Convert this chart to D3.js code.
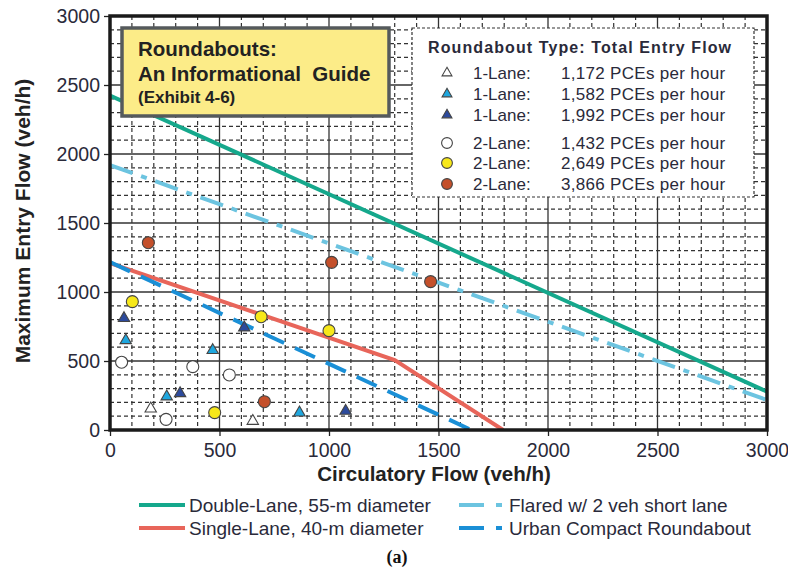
<!DOCTYPE html>
<html><head><meta charset="utf-8">
<script src="https://cdn.jsdelivr.net/npm/d3@7"></script>
<style>body{margin:0;background:#fff}svg{display:block;font-family:"Liberation Sans",Arial,sans-serif}</style>
</head><body><svg id="c" width="788" height="572"></svg>
<script>
const xTicks = [0,500,1000,1500,2000,2500,3000];
const yTicks = [0,500,1000,1500,2000,2500,3000];
const minorStep = 100;

const doubleLane = [[0,2424],[3000,278]];
const flared = [[0,1920],[3000,217]];
const singleLane = [[0,1210],[1300,507],[1795,0]];
const urbanCompact = [[0,1217],[1650,0]];

const tri1172 = [[186,162],[652,72]];
const tri1582 = [[72,657],[469,585],[259,249],[865,133]];
const tri1992 = [[64,817],[613,749],[320,273],[1076,145]];
const cir1432 = [[53,491],[378,459],[545,399],[256,77]];
const cir2649 = [[102,930],[690,821],[1000,720],[478,126]];
const cir3866 = [[175,1357],[1012,1215],[1464,1075],[705,205]];

const legendTitle = "Roundabout Type: Total Entry Flow";
const legendLanes = ["1-Lane:","1-Lane:","1-Lane:","2-Lane:","2-Lane:","2-Lane:"];
const legendFlows = ["1,172 PCEs per hour","1,582 PCEs per hour","1,992 PCEs per hour","1,432 PCEs per hour","2,649 PCEs per hour","3,866 PCEs per hour"];
const lineNames = ["Double-Lane, 55-m diameter","Single-Lane, 40-m diameter","Flared w/ 2 veh short lane","Urban Compact Roundabout"];

const svg = d3.select("#c");
const L=110,R=767,T=16,B=430;
const x = d3.scaleLinear().domain([0,3000]).range([L,R]);
const y = d3.scaleLinear().domain([0,3000]).range([B,T]);
const txt = "#2a2a3a";

const g = svg.append("g");
const minors = d3.range(0,3001,minorStep).filter(v=>v%500!==0);
g.selectAll(".vx").data(minors).join("line").attr("class","vx")
  .attr("x1",d=>x(d)).attr("x2",d=>x(d)).attr("y1",T).attr("y2",B)
  .attr("stroke","#333").attr("stroke-width",1.2).attr("stroke-dasharray","4,3");
g.selectAll(".hy").data(minors).join("line").attr("class","hy")
  .attr("y1",d=>y(d)).attr("y2",d=>y(d)).attr("x1",L).attr("x2",R)
  .attr("stroke","#333").attr("stroke-width",1.2).attr("stroke-dasharray","4,3");
g.selectAll(".mx").data(xTicks).join("line").attr("class","mx")
  .attr("x1",d=>x(d)).attr("x2",d=>x(d)).attr("y1",T).attr("y2",B)
  .attr("stroke","#333").attr("stroke-width",1.3);
g.selectAll(".my").data(yTicks).join("line").attr("class","my")
  .attr("y1",d=>y(d)).attr("y2",d=>y(d)).attr("x1",L).attr("x2",R)
  .attr("stroke","#333").attr("stroke-width",1.3);

// axes
const xa = svg.append("g").attr("transform",`translate(0,${B})`)
  .call(d3.axisBottom(x).tickValues(xTicks).tickSize(6).tickPadding(7).tickFormat(d3.format("d")));
const ya = svg.append("g").attr("transform",`translate(${L},0)`)
  .call(d3.axisLeft(y).tickValues(yTicks).tickSize(6).tickPadding(4).tickFormat(d3.format("d")));
[xa,ya].forEach(a=>{a.select(".domain").remove();
  a.selectAll("line").attr("stroke","#222").attr("stroke-width",1.3);
  a.selectAll("text").attr("font-size",19.5).attr("fill",txt).attr("font-family","Liberation Sans, Arial");});

// lines
const line = d3.line().x(d=>x(d[0])).y(d=>y(d[1]));
svg.append("clipPath").attr("id","pc").append("rect").attr("x",L).attr("y",T).attr("width",R-L).attr("height",B-T);
const lg = svg.append("g").attr("clip-path","url(#pc)");
lg.append("path").datum(singleLane).attr("d",line).attr("fill","none").attr("stroke","#e8655a").attr("stroke-width",4);
lg.append("path").datum(urbanCompact).attr("d",line).attr("fill","none").attr("stroke","#1a8fd6").attr("stroke-width",4).attr("stroke-dasharray","22,12");
lg.append("path").datum(flared).attr("d",line).attr("fill","none").attr("stroke","#6cc4e0").attr("stroke-width",4).attr("stroke-dasharray","24,9,6,9");
lg.append("path").datum(doubleLane).attr("d",line).attr("fill","none").attr("stroke","#15a88c").attr("stroke-width",4);

// frame
svg.append("rect").attr("x",L).attr("y",T).attr("width",R-L).attr("height",B-T)
  .attr("fill","none").attr("stroke","#1a1a1a").attr("stroke-width",3.5);

// points
const triSym = d3.symbol().type(d3.symbolTriangle).size(56);
const groups = [
  {d:tri1172,shape:"t",fill:"#ffffff"},
  {d:tri1582,shape:"t",fill:"#1ea7df"},
  {d:tri1992,shape:"t",fill:"#2c4a9c"},
  {d:cir1432,shape:"c",fill:"#ffffff"},
  {d:cir2649,shape:"c",fill:"#f7e81a"},
  {d:cir3866,shape:"c",fill:"#c4502b"}
];
const pg = svg.append("g");
groups.forEach(gr=>{
  if(gr.shape==="t"){
    pg.selectAll(null).data(gr.d).join("path").attr("d",triSym)
      .attr("transform",d=>`translate(${x(d[0])},${y(d[1])+1})`)
      .attr("fill",gr.fill).attr("stroke","#444").attr("stroke-width",1.1);
  } else {
    pg.selectAll(null).data(gr.d).join("circle").attr("cx",d=>x(d[0])).attr("cy",d=>y(d[1])).attr("r",6)
      .attr("fill",gr.fill).attr("stroke","#444").attr("stroke-width",1.1);
  }
});

// title box
svg.append("rect").attr("x",122).attr("y",28).attr("width",267).attr("height",88)
  .attr("fill","#fcec88").attr("stroke","#555a5c").attr("stroke-width",3.5);
const tt = svg.append("g").attr("fill","#222").attr("font-weight","bold");
tt.append("text").attr("x",138).attr("y",56).attr("font-size",20.5).text("Roundabouts:");
tt.append("text").attr("x",138).attr("y",81).attr("font-size",20.5).attr("xml:space","preserve").text("An Informational  Guide");
tt.append("text").attr("x",138).attr("y",103).attr("font-size",17).text("(Exhibit 4-6)");

// legend box
svg.append("rect").attr("x",412).attr("y",28).attr("width",342).attr("height",169)
  .attr("fill","#fff").attr("stroke","#333").attr("stroke-width",1.2).attr("stroke-dasharray","3,2");
svg.append("text").attr("x",428).attr("y",53).attr("font-size",16).attr("letter-spacing",1.1).attr("font-weight","bold").attr("fill",txt).text(legendTitle);
const rowY = [73,94,115,143,163,184];
groups.forEach((gr,i)=>{
  const yy=rowY[i];
  if(gr.shape==="t"){
    svg.append("path").attr("d",d3.symbol().type(d3.symbolTriangle).size(42)).attr("transform",`translate(447,${yy})`)
      .attr("fill",gr.fill).attr("stroke","#444").attr("stroke-width",1.1);
  } else {
    svg.append("circle").attr("cx",447).attr("cy",yy).attr("r",5.4).attr("fill",gr.fill).attr("stroke","#444").attr("stroke-width",1.1);
  }
  svg.append("text").attr("x",473).attr("y",yy+6).attr("font-size",17).attr("fill",txt).text(legendLanes[i]);
  svg.append("text").attr("x",561).attr("y",yy+6).attr("font-size",17).attr("letter-spacing",0.3).attr("fill",txt).text(legendFlows[i]);
});

// axis titles
svg.append("text").attr("x",434).attr("y",481).attr("text-anchor","middle").attr("font-size",20.5).attr("font-weight","bold").attr("fill","#222").text("Circulatory Flow (veh/h)");
svg.append("text").attr("transform","translate(30,221) rotate(-90)").attr("text-anchor","middle").attr("font-size",21).attr("font-weight","bold").attr("fill","#222").text("Maximum Entry Flow (veh/h)");

// bottom legend
const bl = [
  {x:139,y:505,c:"#15a88c",dash:false,t:lineNames[0]},
  {x:139,y:528,c:"#e8655a",dash:false,t:lineNames[1]},
  {x:459,y:505,c:"#6cc4e0",dash:true,t:lineNames[2]},
  {x:459,y:528,c:"#1a8fd6",dash:true,t:lineNames[3]}
];
bl.forEach(b=>{
  if(b.dash){
    svg.append("line").attr("x1",b.x).attr("x2",b.x+25).attr("y1",b.y).attr("y2",b.y).attr("stroke",b.c).attr("stroke-width",4);
    svg.append("line").attr("x1",b.x+37).attr("x2",b.x+43).attr("y1",b.y).attr("y2",b.y).attr("stroke",b.c).attr("stroke-width",4);
  } else {
    svg.append("line").attr("x1",b.x).attr("x2",b.x+46).attr("y1",b.y).attr("y2",b.y).attr("stroke",b.c).attr("stroke-width",4);
  }
  svg.append("text").attr("x",b.x+50).attr("y",b.y+6.5).attr("font-size",19).attr("fill",txt).text(b.t);
});
svg.append("text").attr("x",397).attr("y",563).attr("text-anchor","middle").attr("font-size",18).attr("font-weight","bold")
  .attr("font-family","Liberation Serif, serif").attr("fill","#111").text("(a)");
</script></body></html>
